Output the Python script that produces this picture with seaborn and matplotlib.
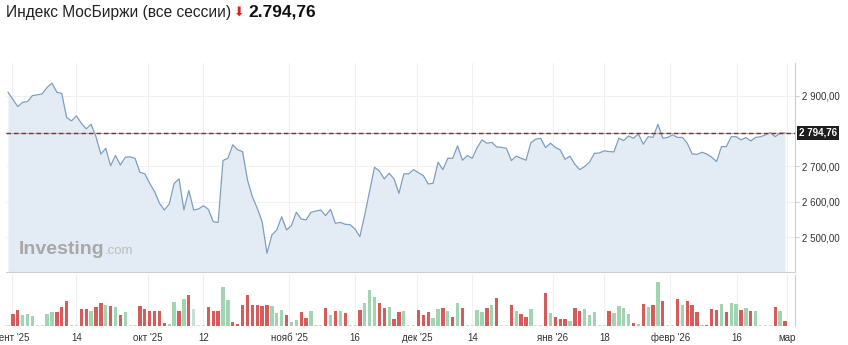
import numpy as np
import pandas as pd
import matplotlib
matplotlib.use("Agg")
import matplotlib.pyplot as plt
import matplotlib.transforms as mtransforms
import seaborn as sns

sns.set_theme(style="white")
plt.rcParams['font.family'] = ['Liberation Sans', 'DejaVu Sans']

# ---------------- data ----------------
title_text = "Индекс МосБиржи (все сессии)"
last_price_text = "2.794,76"
last_label_text = "2 794,76"
last_price = 2794.76

price = [
    2909.5, 2889.0, 2869.0, 2881.0, 2883.0, 2900.0, 2902.0, 2905.0, 2923.0, 2935.0,
    2909.5, 2906.0, 2838.0, 2828.5, 2842.7, 2822.0, 2806.0, 2819.0, 2784.0, 2735.0,
    2751.0, 2702.0, 2731.0, 2704.0, 2726.0, 2727.0, 2723.0, 2683.6, 2679.0, 2652.0,
    2629.0, 2596.0, 2577.0, 2594.0, 2652.0, 2665.0, 2577.0, 2632.0, 2577.0, 2580.0,
    2589.0, 2579.0, 2544.0, 2542.0, 2716.5, 2723.0, 2761.0, 2747.0, 2742.0, 2662.0,
    2615.0, 2582.0, 2544.0, 2455.0, 2506.5, 2520.6, 2558.0, 2520.6, 2533.0, 2570.6,
    2551.7, 2549.0, 2570.6, 2574.0, 2577.0, 2561.0, 2579.0, 2539.5, 2542.0, 2536.7,
    2535.7, 2523.5, 2502.0, 2563.0, 2631.0, 2697.7, 2687.3, 2664.7, 2680.7, 2664.7,
    2624.0, 2679.0, 2679.0, 2691.0, 2682.0, 2674.0, 2650.6, 2652.5, 2712.0, 2691.0,
    2723.0, 2723.0, 2758.0, 2717.5, 2730.6, 2723.0, 2753.0, 2775.0, 2765.5, 2768.0,
    2755.0, 2754.0, 2751.0, 2716.5, 2729.0, 2723.0, 2717.5, 2767.0, 2777.0, 2779.6,
    2753.0, 2765.5, 2754.0, 2746.6, 2720.0, 2729.0, 2706.0, 2691.0, 2699.6, 2712.0,
    2737.0, 2738.0, 2744.0, 2742.0, 2741.0, 2779.6, 2773.0, 2786.0, 2779.6, 2792.0,
    2762.6, 2784.0, 2782.0, 2819.0, 2779.6, 2782.0, 2789.0, 2782.0, 2782.0, 2765.5,
    2735.3, 2734.0, 2740.0, 2735.0, 2726.0, 2713.7, 2756.0, 2756.0, 2784.0, 2784.0,
    2775.0, 2781.5, 2772.0, 2782.0, 2784.0, 2789.0, 2795.6, 2784.0, 2794.0, 2794.76,
]

volume = [
    2, 37, 49, 33, 35, 30, 2, 2, 37, 41,
    42, 57, 75, 3, 3, 51, 51, 44, 57, 70,
    64, 59, 57, 34, 42, 2, 2, 59, 52, 46,
    46, 44, 9, 5, 73, 44, 80, 92, 52, 3,
    3, 57, 45, 46, 115, 77, 11, 6, 64, 92,
    62, 64, 60, 64, 61, 39, 47, 34, 11, 17,
    41, 25, 44, 2, 2, 54, 33, 44, 44, 40,
    2, 2, 47, 70, 106, 87, 68, 54, 56, 22,
    42, 44, 2, 2, 49, 33, 42, 25, 50, 54,
    44, 28, 68, 54, 2, 2, 49, 42, 54, 62,
    83, 2, 2, 62, 44, 35, 28, 52, 2, 2,
    97, 38, 28, 20, 20, 15, 54, 45, 50, 33,
    42, 2, 2, 44, 40, 59, 54, 35, 8, 5,
    66, 57, 64, 132, 76, 2, 2, 80, 62, 76,
    62, 42, 4, 4, 52, 48, 65, 43, 70, 65,
    48, 55, 46, 46, 2, 2, 2, 58, 46, 15,
]

direction = list(
    "nrrgggnngg" "rrrnnrrgrr" "grgrgnnrrr" "rrrggrgrnn"
    "nrrrggrrrr" "rrrrgggrgg" "rrgnnrgrgr" "nnrgggrrgr"
    "rgnnrrrggr" "grgrnnggrg" "rnnrgrrgnn" "rgrrrgrrgg"
    "gnnrggggrg" "rgrgrnnrgr" "rrgrrrgrgg" "rgrgnnnrgr"
)

tick_pos = [0.8, 14.0, 28.6, 40.0, 57.5, 71.0, 83.7, 95.0, 111.5, 122.0, 135.5, 149.2, 159.4]
tick_labels = ["сент '25", "14", "окт '25", "12", "нояб '25", "16", "дек '25",
               "14", "янв '26", "18", "февр '26", "16", "мар"]
y_ticks = [2500, 2600, 2700, 2900]
y_tick_labels = ["2 500,00", "2 600,00", "2 700,00", "2 900,00"]

df = pd.DataFrame({
    "i": np.arange(len(price)),
    "price": price,
    "volume": volume,
    "dir": direction,
})

# ---------------- figure ----------------
W, H = 848, 345
fig = plt.figure(figsize=(W / 100, H / 100), dpi=100)
fig.patch.set_facecolor("white")

def fx(px):
    return px / W

def fy(py):
    return 1 - py / H

left_px, right_px = 6, 795
ax1 = fig.add_axes([fx(left_px), fy(272), fx(right_px - left_px), (272 - 63) / H])
ax2 = fig.add_axes([fx(left_px), fy(326), fx(right_px - left_px), (326 - 275) / H])

spacing = (785 - 8) / (len(price) - 1)
xlo = -(8 - left_px) / spacing
xhi = (right_px - 8) / spacing
ylo, yhi = 2402, 2992

line_col = "#7d9fc0"
fill_col = "#e3ecf5"
grid_col = "#f0f0f0"
axis_col = "#cfcfcf"
text_col = "#333333"

# price panel
ax1.fill_between(df["i"], df["price"], ylo, color=fill_col, linewidth=0, zorder=1)
sns.lineplot(data=df, x="i", y="price", ax=ax1, color=line_col, linewidth=0.9, zorder=3)
ax1.axhline(last_price, color="#e49a9a", linewidth=0.9, zorder=4)
ax1.axhline(last_price, color="#4a4a4a", linewidth=1.0, dashes=(3.2, 2.2), zorder=5)
ax1.set_xlim(xlo, xhi)
ax1.set_ylim(ylo, yhi)
ax1.set_xticks(tick_pos)
ax1.set_xticklabels([])
ax1.yaxis.tick_right()
ax1.set_yticks(y_ticks)
ax1.set_yticklabels(y_tick_labels)
ax1.tick_params(axis="y", which="both", right=True, length=3, width=0.8, color=axis_col,
                labelsize=7, labelcolor=text_col, pad=2)
ax1.tick_params(axis="x", length=0)
ax1.grid(True, color=grid_col, linewidth=0.8, zorder=0)
ax1.set_axisbelow(True)
ax1.set_xlabel("")
ax1.set_ylabel("")
for s in ["top", "left"]:
    ax1.spines[s].set_visible(False)
ax1.spines["right"].set_color(axis_col)
ax1.spines["right"].set_linewidth(0.8)
ax1.spines["bottom"].set_color(axis_col)
ax1.spines["bottom"].set_linewidth(0.8)

# last price label box
trans = mtransforms.blended_transform_factory(ax1.transAxes, ax1.transData)
ax1.text(1.0 + 4 / (right_px - left_px), last_price, last_label_text, transform=trans,
         ha="left", va="center", fontsize=7, color="white", fontweight="bold",
         bbox=dict(facecolor="#1e1e1e", edgecolor="none", pad=1.6), zorder=10, clip_on=False)

# watermark
t_inv = fig.text(fx(19), fy(254), "Investing", fontsize=14, fontweight="bold",
                 color="#a8a8a8", ha="left", va="baseline")

# volume panel
pal = {"r": "#d65c5c", "g": "#a3d4b1", "n": "#c9dfd0"}
bar_colors = [pal[d] for d in df["dir"]]
sns.barplot(data=df, x="i", y="volume", native_scale=True, width=0.68,
            saturation=1, errorbar=None, color=pal["g"], ax=ax2, zorder=3)
for patch, c in zip(ax2.patches, bar_colors):
    patch.set_facecolor(c)
    patch.set_edgecolor("none")
ax2.set_xlim(xlo, xhi)
ax2.set_ylim(0, 152)
ax2.set_xticks(tick_pos)
ax2.set_xticklabels(tick_labels)
ax2.set_yticks([])
ax2.tick_params(axis="x", length=0, labelsize=7, labelcolor=text_col, pad=5)
ax2.grid(True, axis="x", color=grid_col, linewidth=0.8, zorder=0)
ax2.set_axisbelow(True)
ax2.set_xlabel("")
ax2.set_ylabel("")
for s in ["top", "left", "bottom"]:
    ax2.spines[s].set_visible(False)
ax2.spines["right"].set_color(axis_col)
ax2.spines["right"].set_linewidth(0.8)

# title
t1 = fig.text(fx(6), fy(12), title_text, fontsize=11.2, color="#222222",
              ha="left", va="center")
fig.canvas.draw()
r = fig.canvas.get_renderer()
bb = t1.get_window_extent(r)
t2 = fig.text((bb.x1 + 3) / W, fy(12), "⬇", fontsize=9, color="#d9261c",
              ha="left", va="center", family=["DejaVu Sans"])
fig.canvas.draw()
bb2 = t2.get_window_extent(r)
fig.text((bb2.x1 + 4) / W, fy(12), last_price_text, fontsize=12.5, color="#111111",
         fontweight="bold", ha="left", va="center")

bbw = t_inv.get_window_extent(r)
fig.text((bbw.x1 + 0.5) / W, fy(254), ".com", fontsize=9.5, color="#bdbdbd",
         ha="left", va="baseline")

fig.savefig("out.png", dpi=100, facecolor="white")
